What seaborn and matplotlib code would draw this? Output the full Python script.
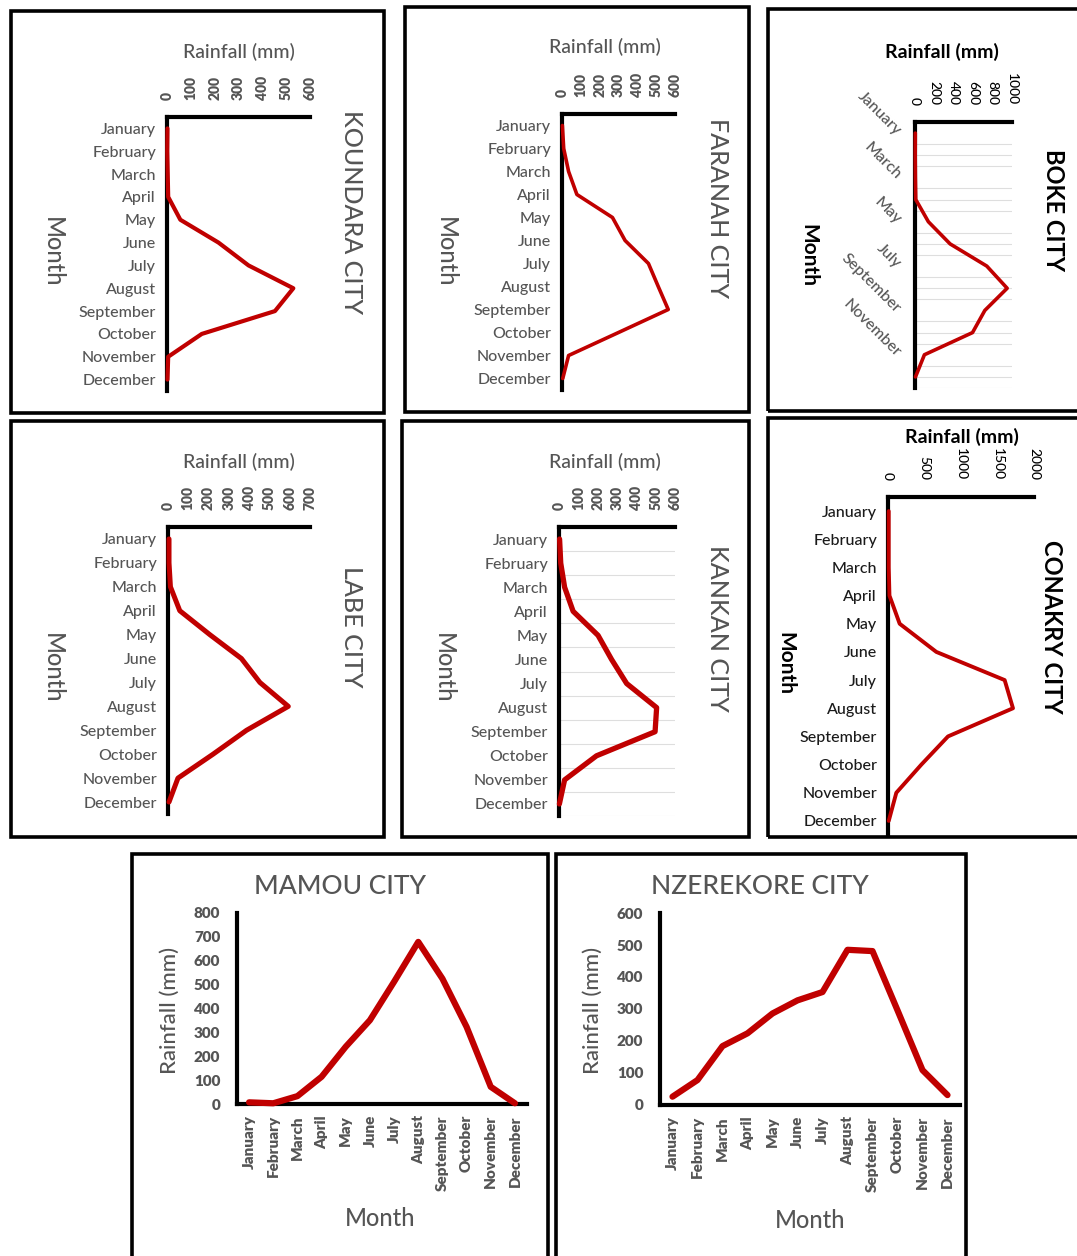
import numpy as np
import pandas as pd
import matplotlib
matplotlib.use("Agg")
import matplotlib.pyplot as plt
import seaborn as sns
from matplotlib.patches import Rectangle

# ---- data -------------------------------------------------------------
months = ["January", "February", "March", "April", "May", "June", "July",
          "August", "September", "October", "November", "December"]

koundara = [2, 1, 3, 5, 56, 216, 342, 530, 453, 146, 5, 2]
faranah = [2, 9, 35, 79, 268, 335, 459, 511, 564, 300, 35, 4]
boke = [3, 2, 4, 8, 138, 362, 740, 950, 720, 593, 97, 5]
labe = [5, 5, 12, 58, 206, 362, 453, 593, 387, 222, 49, 5]
kankan = [3, 9, 29, 73, 202, 272, 350, 505, 497, 194, 29, 2]
conakry = [10, 10, 10, 20, 160, 662, 1598, 1712, 822, 457, 114, 10]
mamou = [7, 3, 33, 114, 240, 351, 512, 679, 525, 323, 72, 3]
nzerekore = [26, 78, 184, 224, 286, 327, 353, 485, 481, 296, 109, 31]

# ---- figure setup -----------------------------------------------------
W, H = 1077, 1256
RED = "#C00000"
GREY = "#555555"
NARROW = ["Liberation Sans Narrow", "Lato", "DejaVu Sans"]

sns.set_theme(style="white")
plt.rcParams["font.family"] = ["Lato", "DejaVu Sans"]

fig = plt.figure(figsize=(W / 100, H / 100), dpi=100)
fig.patch.set_facecolor("white")


def px_axes(left, top, right, bottom):
    return fig.add_axes([left / W, 1 - bottom / H, (right - left) / W, (bottom - top) / H])


def ftext(x, y, s, **kw):
    fig.text(x / W, 1 - y / H, s, **kw)


def frame(x0, y0, x1, y1):
    fig.add_artist(Rectangle((x0 / W, 1 - y1 / H), (x1 - x0) / W, (y1 - y0) / H,
                             transform=fig.transFigure, fill=False,
                             ec="black", lw=2.6, zorder=10))


def frame_df(values):
    return pd.DataFrame({"pos": np.arange(len(months)), "Month": months,
                         "Rainfall": values})


def side_panel(values, rect, xmax, xstep, lw, tick_rot=90, tick_color=GREY,
               month_color=GREY, month_size=11.5, every=1, grid=None,
               month_rot=0, month_pad=8):
    ax = px_axes(*rect)
    ax.set_facecolor("none")
    sns.lineplot(data=frame_df(values), x="Rainfall", y="pos", orient="y",
                 color=RED, lw=lw, ax=ax, zorder=4, clip_on=False)
    ax.set_xlim(0, xmax)
    ax.set_ylim(11.5, -0.5)
    ax.xaxis.tick_top()
    ax.set_xticks(np.arange(0, xmax + 1, xstep))
    ax.set_xticklabels([str(v) for v in np.arange(0, xmax + 1, xstep)],
                       rotation=tick_rot, fontsize=10, color=tick_color,
                       fontweight="heavy" if tick_color == GREY else "medium")
    pos = np.arange(0, 12, every)
    ax.set_yticks(pos)
    if month_rot:
        ax.set_yticklabels([months[i] for i in pos], rotation=month_rot,
                           ha="right", va="center", rotation_mode="anchor",
                           fontsize=month_size, color=month_color,
                           fontweight="medium")
    else:
        ax.set_yticklabels([months[i] for i in pos], fontsize=month_size,
                           color=month_color, fontweight="medium")
    ax.tick_params(axis="x", length=0, pad=12)
    ax.tick_params(axis="y", length=0, pad=month_pad)
    for s in ("bottom", "right"):
        ax.spines[s].set_visible(False)
    for s in ("top", "left"):
        ax.spines[s].set_color("black")
        ax.spines[s].set_linewidth(3)
    if grid is not None:
        ax.set_yticks(grid, minor=True)
        ax.grid(True, which="minor", axis="y", color="#dedede", lw=0.8)
        ax.tick_params(axis="y", which="minor", length=0)
    ax.set_xlabel("")
    ax.set_ylabel("")
    return ax


def bottom_panel(values, rect, ymax, lw):
    ax = px_axes(*rect)
    ax.set_facecolor("none")
    sns.lineplot(data=frame_df(values), x="pos", y="Rainfall", color=RED,
                 lw=lw, ax=ax, zorder=4, clip_on=False)
    ax.set_xlim(-0.5, 11.5)
    ax.set_ylim(0, ymax)
    ax.set_xticks(np.arange(12))
    ax.set_xticklabels(months, rotation=90, fontsize=11, color=GREY,
                       fontweight="heavy")
    ax.set_yticks(np.arange(0, ymax + 1, 100))
    ax.set_yticklabels([str(v) for v in np.arange(0, ymax + 1, 100)],
                       fontsize=11, color=GREY, fontweight="heavy")
    ax.tick_params(axis="x", length=0, pad=8)
    ax.tick_params(axis="y", length=0, pad=12)
    for s in ("top", "right"):
        ax.spines[s].set_visible(False)
    for s in ("bottom", "left"):
        ax.spines[s].set_color("black")
        ax.spines[s].set_linewidth(3)
    ax.set_xlabel("")
    ax.set_ylabel("")
    return ax


MED = dict(fontweight="medium")

# ---- top row ----------------------------------------------------------
side_panel(koundara, (167, 117, 310, 391), 600, 100, 3.0)
ftext(239, 52, "Rainfall (mm)", ha="center", va="center", fontsize=14, color=GREY, **MED)
ftext(52, 252, "Month", ha="center", va="center", rotation=270,
      fontsize=17, color=GREY, family=NARROW, **MED)
ftext(352, 212, "KOUNDARA CITY", ha="center", va="center", rotation=270,
      fontsize=18, color=GREY, family=NARROW, **MED)

side_panel(faranah, (562, 114, 675, 390), 600, 100, 2.6)
ftext(605, 47, "Rainfall (mm)", ha="center", va="center", fontsize=14, color=GREY, **MED)
ftext(445, 252, "Month", ha="center", va="center", rotation=270,
      fontsize=17, color=GREY, family=NARROW, **MED)
ftext(717, 208, "FARANAH CITY", ha="center", va="center", rotation=270,
      fontsize=18, color=GREY, family=NARROW, **MED)

side_panel(boke, (915, 122, 1012, 388), 1000, 200, 2.6, tick_rot=270,
           tick_color="black", month_size=11.5, every=2,
           grid=np.arange(0, 12, 0.5), month_rot=-45, month_pad=12)
ftext(942, 52, "Rainfall (mm)", ha="center", va="center", fontsize=14,
      color="black", fontweight="bold", family=NARROW)
ftext(808, 255, "Month", ha="center", va="center", rotation=270,
      fontsize=15, color="black", fontweight="bold", family=NARROW)
ftext(1053, 210, "BOKE CITY", ha="center", va="center", rotation=270,
      fontsize=17, color="black", fontweight="bold", family=NARROW)

# ---- middle row -------------------------------------------------------
side_panel(labe, (168, 527, 310, 814), 700, 100, 3.6)
ftext(239, 462, "Rainfall (mm)", ha="center", va="center", fontsize=14, color=GREY, **MED)
ftext(52, 668, "Month", ha="center", va="center", rotation=270,
      fontsize=17, color=GREY, family=NARROW, **MED)
ftext(352, 627, "LABE CITY", ha="center", va="center", rotation=270,
      fontsize=18, color=GREY, family=NARROW, **MED)

side_panel(kankan, (559, 527, 675, 816), 600, 100, 3.8,
           grid=np.arange(0.5, 12, 1))
ftext(605, 462, "Rainfall (mm)", ha="center", va="center", fontsize=14, color=GREY, **MED)
ftext(443, 668, "Month", ha="center", va="center", rotation=270,
      fontsize=17, color=GREY, family=NARROW, **MED)
ftext(717, 628, "KANKAN CITY", ha="center", va="center", rotation=270,
      fontsize=18, color=GREY, family=NARROW, **MED)

side_panel(conakry, (888, 497, 1034, 835), 2000, 500, 2.8, tick_rot=270,
           tick_color="black", month_color="#1a1a1a", month_size=11.5)
ftext(962, 437, "Rainfall (mm)", ha="center", va="center", fontsize=14,
      color="black", fontweight="bold", family=NARROW)
ftext(785, 663, "Month", ha="center", va="center", rotation=270,
      fontsize=15, color="black", fontweight="bold", family=NARROW)
ftext(1052, 627, "CONAKRY CITY", ha="center", va="center", rotation=270,
      fontsize=17, color="black", fontweight="bold", family=NARROW)

# ---- bottom row -------------------------------------------------------
bottom_panel(mamou, (237, 913, 527, 1104), 800, 4.5)
ftext(340, 887, "MAMOU CITY", ha="center", va="center", fontsize=19,
      color=GREY, family=NARROW, **MED)
ftext(170, 1010, "Rainfall (mm)", ha="center", va="center", rotation=90,
      fontsize=16, color=GREY, family=NARROW, **MED)
ftext(380, 1218, "Month", ha="center", va="center", fontsize=17,
      color=GREY, family=NARROW, **MED)

bottom_panel(nzerekore, (660, 913, 960, 1105), 600, 4.5)
ftext(760, 887, "NZEREKORE CITY", ha="center", va="center", fontsize=19,
      color=GREY, family=NARROW, **MED)
ftext(593, 1010, "Rainfall (mm)", ha="center", va="center", rotation=90,
      fontsize=16, color=GREY, family=NARROW, **MED)
ftext(810, 1220, "Month", ha="center", va="center", fontsize=17,
      color=GREY, family=NARROW, **MED)

# ---- panel frames -----------------------------------------------------
frame(11, 11, 384, 413)
frame(405, 7, 749, 412)
frame(768, 9, 1085, 411)
frame(11, 421, 384, 837)
frame(402, 421, 749, 837)
frame(768, 418, 1085, 837)
frame(132, 854, 548, 1262)
frame(556, 854, 966, 1262)

fig.savefig("out.png", dpi=100, facecolor="white")
